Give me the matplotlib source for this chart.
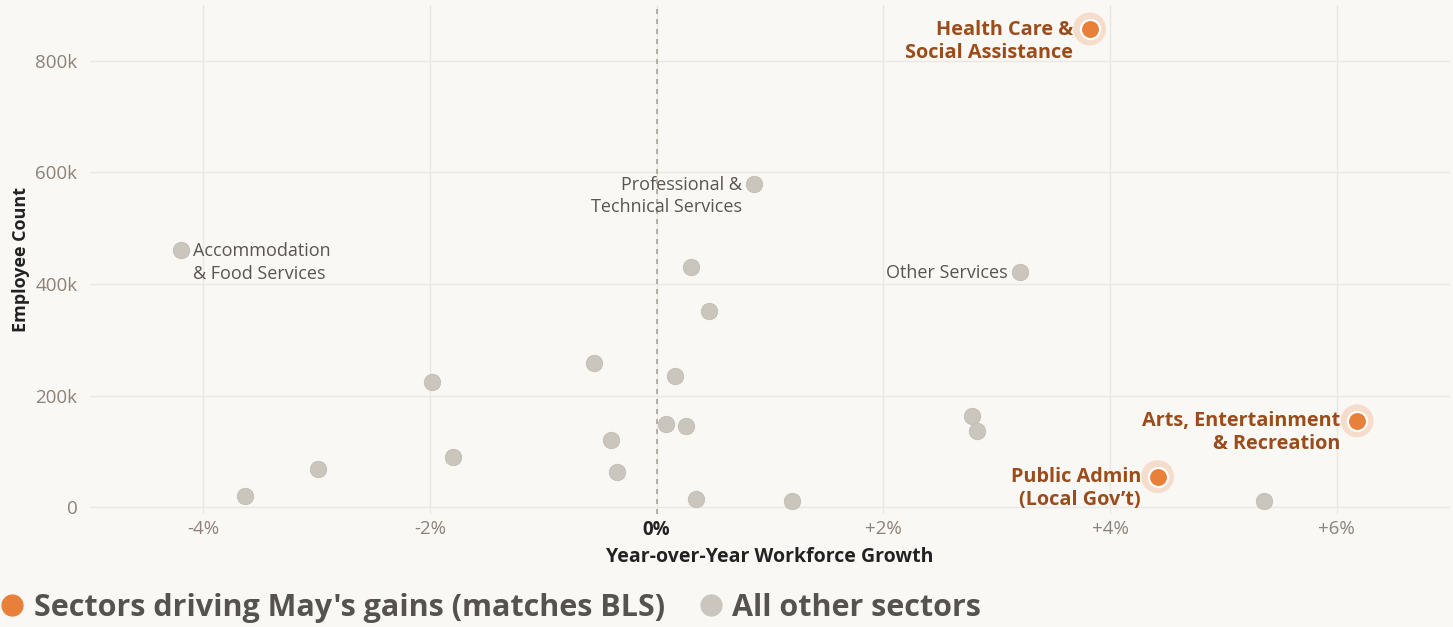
import matplotlib
matplotlib.use("Agg")
import matplotlib.pyplot as plt
from matplotlib.lines import Line2D

plt.rcParams['font.family'] = ['Open Sans', 'DejaVu Sans']

# Data
other_growth = [-4.2, 0.86, 3.21, 0.30, 0.46, -0.55, 0.16, -1.98, 2.78, 2.83,
                0.08, 0.26, -0.40, -1.80, -2.99, -0.35, -3.63, 0.35, 1.19, 5.36]
other_count = [461000, 580000, 422000, 431000, 351000, 258000, 236000, 224000, 163000, 136000,
               149000, 145000, 120000, 90000, 68000, 64000, 21000, 14000, 11000, 12000]
other_labels = ["Accommodation\n& Food Services", "Professional &\nTechnical Services", "Other Services"]

key_names = ["Health Care &\nSocial Assistance", "Arts, Entertainment\n& Recreation", "Public Admin\n(Local Gov\u2019t)"]
key_growth = [3.82, 6.18, 4.42]
key_count = [857000, 155000, 55000]

xticks = [-4, -2, 0, 2, 4, 6]
xtick_labels = ["-4%", "-2%", "0%", "+2%", "+4%", "+6%"]
yticks = [0, 200000, 400000, 600000, 800000]
ytick_labels = ["0", "200k", "400k", "600k", "800k"]

BG = "#f9f8f4"
ORANGE = "#e8803a"
GRAY = "#cac5bd"
BROWN = "#9a4c1c"
TXT = "#5a5550"
TICK = "#8c8279"

fig = plt.figure(figsize=(14.53, 6.27), dpi=100, facecolor=BG)
ax = fig.add_axes([90/1453, 1-514/627, 1360/1453, 509/627])
ax.set_facecolor(BG)
ax.set_xlim(-5, 7)
ax.set_ylim(-12000, 900000)

for s in ax.spines.values():
    s.set_visible(False)
ax.grid(True, color="#ebe8e2", linewidth=1)
ax.set_axisbelow(True)
ax.set_xticks(xticks)
ax.set_xticklabels(xtick_labels)
ax.set_yticks(yticks)
ax.set_yticklabels(ytick_labels)
ax.tick_params(length=0, colors=TICK, labelsize=13.5, pad=9)
ax.tick_params(axis="x", pad=4)
for lab in ax.get_xticklabels():
    if lab.get_text() == "0%":
        lab.set_color("#222222")
        lab.set_fontweight("bold")
ax.axvline(0, color="#a9a39b", linestyle=(0, (3, 3)), linewidth=1.2, zorder=1)

ax.set_xlabel("Year-over-Year Workforce Growth", fontsize=14, fontweight="bold", color="#222222", labelpad=5)
ax.set_ylabel("Employee Count", fontsize=13, fontweight="bold", color="#222222", labelpad=4)

ax.scatter(other_growth, other_count, s=140, color=GRAY, edgecolor="#c2bcb3", linewidth=0.6, zorder=3)
ax.scatter(key_growth, key_count, s=560, color="#f6dccb", edgecolor="none", zorder=3)
ax.scatter(key_growth, key_count, s=190, color=ORANGE, edgecolor="white", linewidth=1.6, zorder=4)

# gray labels
ax.annotate(other_labels[0], (other_growth[0], other_count[0]), xytext=(9, 5.5), textcoords="offset points",
            ha="left", va="top", fontsize=13, color=TXT, linespacing=1.3)
ax.annotate(other_labels[1], (other_growth[1], other_count[1]), xytext=(-9, 5.5), textcoords="offset points",
            ha="right", va="top", fontsize=13, color=TXT, linespacing=1.3, multialignment="right")
ax.annotate(other_labels[2], (other_growth[2], other_count[2]), xytext=(-9, 5.5), textcoords="offset points",
            ha="right", va="top", fontsize=13, color=TXT)

for name, gx, gy in zip(key_names, key_growth, key_count):
    ax.annotate(name, (gx, gy), xytext=(-12, 6.8), textcoords="offset points",
                ha="right", va="top", fontsize=14.3, fontweight="bold", color=BROWN,
                linespacing=1.2, multialignment="right")

handles = [Line2D([], [], marker="o", linestyle="none", markersize=15, color=ORANGE, markeredgecolor=ORANGE),
           Line2D([], [], marker="o", linestyle="none", markersize=15, color=GRAY, markeredgecolor=GRAY)]
leg = fig.legend(handles, ["Sectors driving May's gains (matches BLS)", "All other sectors"],
                 loc="lower left", bbox_to_anchor=(-0.021, -0.037), ncol=2, frameon=False,
                 fontsize=22, handletextpad=0.2, columnspacing=1.0, handlelength=1.0)
for t in leg.get_texts():
    t.set_color("#555250")
    t.set_fontweight("bold")

fig.savefig("out.png", dpi=100, facecolor=BG)
